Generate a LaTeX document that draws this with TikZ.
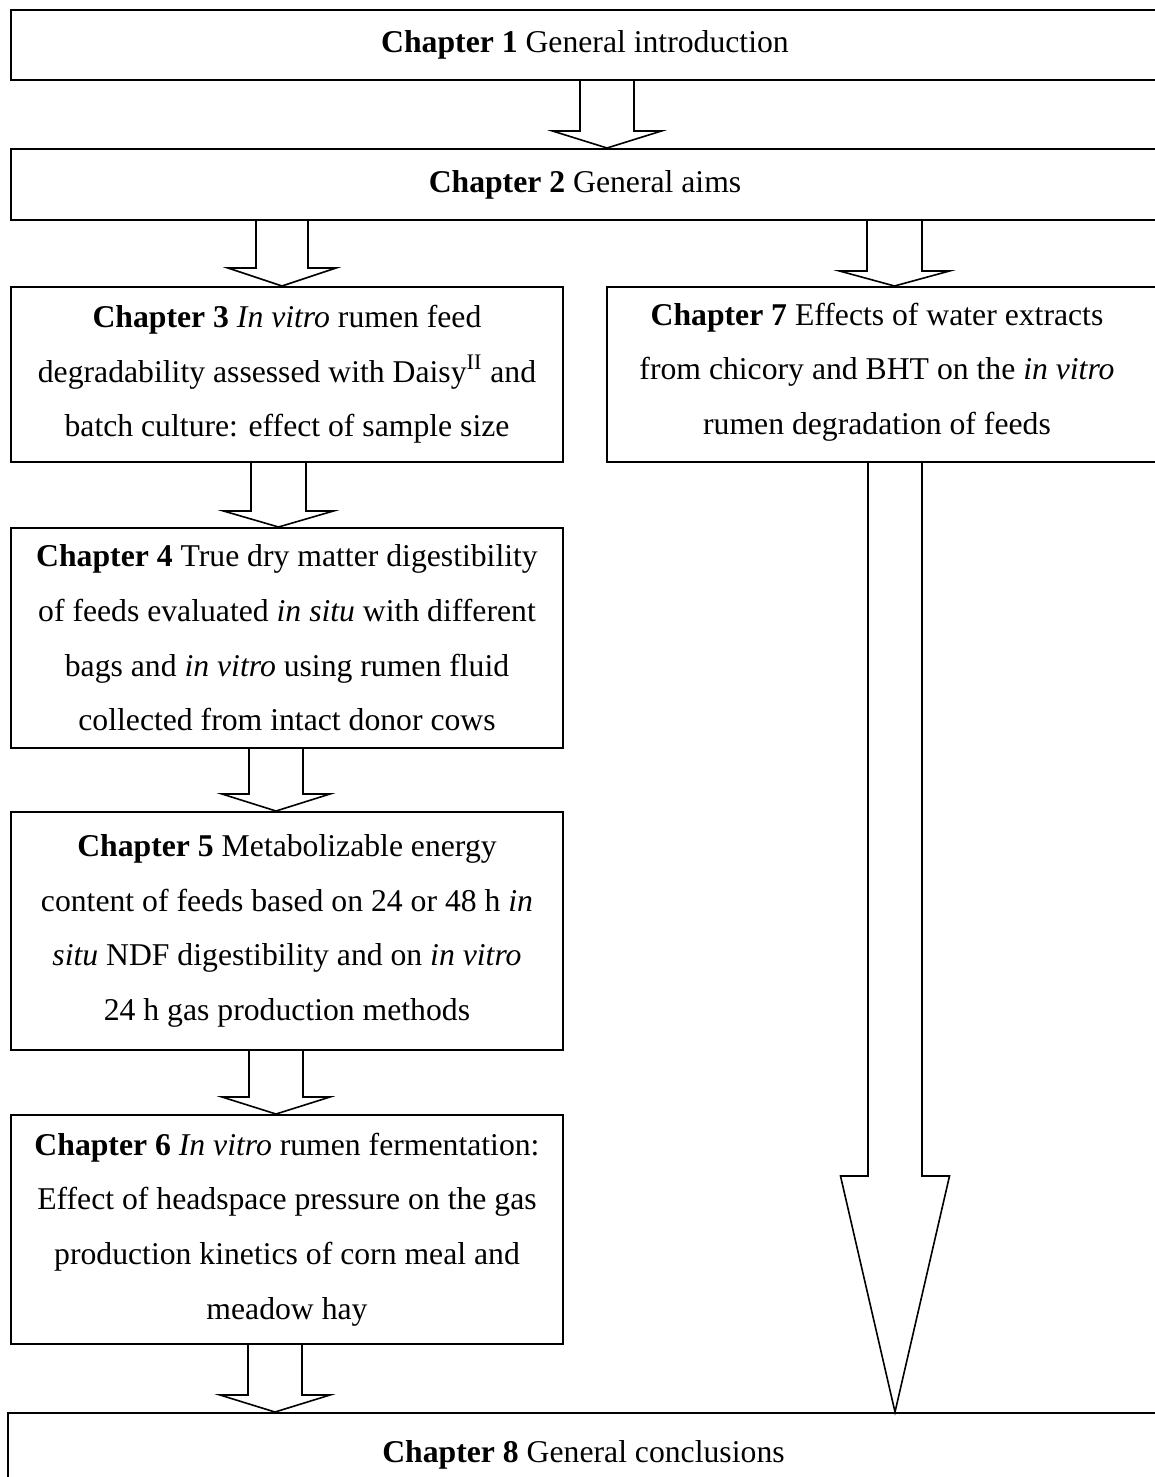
\documentclass[tikz,border=0pt]{standalone}
\usepackage{fontspec}
\setmainfont{Liberation Serif}
\usetikzlibrary{calc}
\tikzset{
  chbox/.style={draw, line width=1pt, inner sep=0pt, align=center,
    font=\fontsize{15.85pt}{27.3pt}\selectfont},
  chtext/.style={inner sep=0pt, align=center, font=\fontsize{15.85pt}{27.3pt}\selectfont},
  arrowline/.style={draw, line width=0.8pt, line join=miter}
}
\newcommand\blockarrow[6]{%
  \draw[arrowline] let \p1=(#1.south), \p2=(#2.north) in
    ({(#3-#4)*0.5pt},\y1) -- ({(#3-#4)*0.5pt},{\y2+#6*0.5pt})
    -- ({(#3-#5)*0.5pt},{\y2+#6*0.5pt}) -- ({#3*0.5pt},\y2)
    -- ({(#3+#5)*0.5pt},{\y2+#6*0.5pt}) -- ({(#3+#4)*0.5pt},{\y2+#6*0.5pt})
    -- ({(#3+#4)*0.5pt},\y1);
}
\begin{document}
\begin{tikzpicture}[x=0.5pt,y=-0.5pt]
\useasboundingbox (0,0) rectangle (1155,1477);
\node[chbox, minimum width=1148*0.5pt, minimum height=70*0.5pt] (b1) at (585,45)
  {\textbf{Chapter 1} General introduction};
\node[chbox, minimum width=1148*0.5pt, minimum height=71*0.5pt] (b2) at (585,184.5)
  {\textbf{Chapter 2} General aims};
\node[chbox, minimum width=552*0.5pt, minimum height=175*0.5pt] (b3) at (287,374.5)
  {\textbf{Chapter 3} \textit{In vitro} rumen feed\\
   degradability assessed with Daisy\textsuperscript{II} and\\
   batch culture: effect of sample size};
\node[chbox, minimum width=552*0.5pt, minimum height=175*0.5pt] (b7) at (883,374.5) {};
\node[chtext] (t7) at (877,372)
  {\textbf{Chapter 7} Effects of water extracts\\
   from chicory and BHT on the \textit{in vitro}\\
   rumen degradation of feeds};
\node[chbox, minimum width=552*0.5pt, minimum height=220*0.5pt] (b4) at (287,638)
  {\textbf{Chapter 4} True dry matter digestibility\\
   of feeds evaluated \textit{in situ} with different\\
   bags and \textit{in vitro} using rumen fluid\\
   collected from intact donor cows};
\node[chbox, minimum width=552*0.5pt, minimum height=238*0.5pt] (b5) at (287,931)
  {\textbf{Chapter 5} Metabolizable energy\\
   content of feeds based on 24 or 48 h \textit{in}\\
   \textit{situ} NDF digestibility and on \textit{in vitro}\\
   24 h gas production methods};
\node[chbox, minimum width=552*0.5pt, minimum height=229*0.5pt] (b6) at (287,1229.5)
  {\textbf{Chapter 6} \textit{In vitro} rumen fermentation:\\
   Effect of headspace pressure on the gas\\
   production kinetics of corn meal and\\
   meadow hay};
\node[chbox, minimum width=1151*0.5pt, minimum height=84*0.5pt] (b8) at (583.5,1455)
  {\textbf{Chapter 8} General conclusions};
\blockarrow{b1}{b2}{607}{27}{54.5}{17}
\blockarrow{b2}{b3}{282}{26}{54}{18}
\blockarrow{b2}{b7}{894.5}{27.5}{55}{15}
\blockarrow{b3}{b4}{278.5}{27.5}{55}{16}
\blockarrow{b4}{b5}{276}{27}{54}{17}
\blockarrow{b5}{b6}{276}{27}{54}{17}
\blockarrow{b6}{b8}{275}{27}{55}{17}
\blockarrow{b7}{b8}{895}{27}{54.5}{236}
\end{tikzpicture}
\end{document}
